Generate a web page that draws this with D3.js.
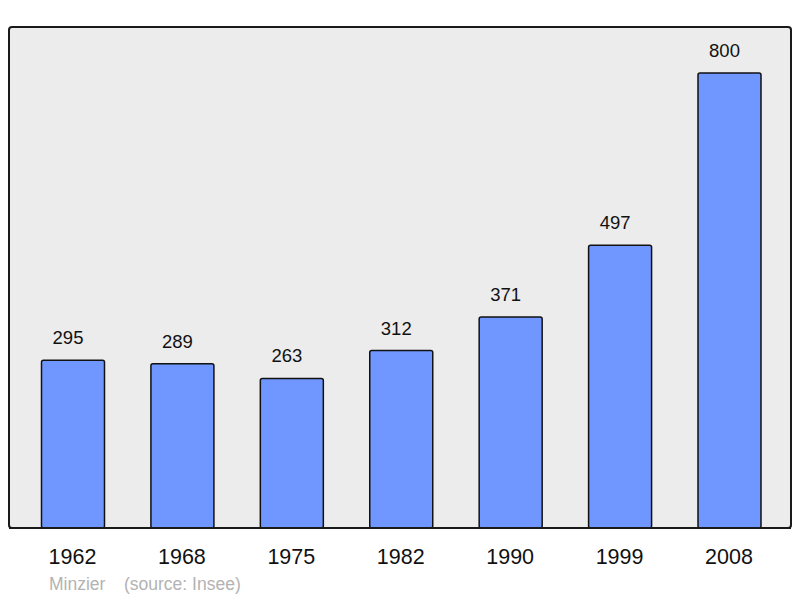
<!DOCTYPE html>
<html><head><meta charset="utf-8">
<script src="https://d3js.org/d3.v7.min.js"></script>
<style>body{margin:0;background:#fff}svg{display:block}</style>
</head><body>
<script>
const years = ["1962","1968","1975","1982","1990","1999","2008"];
const population = [295,289,263,312,371,497,800];
const footer = ["Minzier", "(source: Insee)"];

const W = 800, H = 598;
const svg = d3.select("body").append("svg").attr("width", W).attr("height", H);
const panel = {x0: 9, y0: 27, x1: 791, y1: 528};

svg.append("rect").attr("x", panel.x0).attr("y", panel.y0)
  .attr("width", panel.x1 - panel.x0).attr("height", panel.y1 - panel.y0)
  .attr("rx", 3).attr("fill", "#ececec").attr("stroke", "#1a1a1a").attr("stroke-width", 2);

const xc = d3.scalePoint().domain(years).range([73, 729.5]);
const bw = 63;
const y = d3.scaleLinear().domain([0, 800]).range([panel.y1, 73]);

svg.selectAll("rect.bar").data(years).enter().append("rect")
  .attr("class", "bar")
  .attr("x", d => xc(d) - bw / 2)
  .attr("y", (d, i) => y(population[i]))
  .attr("width", bw)
  .attr("height", (d, i) => y(0) - y(population[i]))
  .attr("rx", 2)
  .attr("fill", "#7096ff").attr("stroke", "#111").attr("stroke-width", 1.5);

svg.selectAll("text.val").data(years).enter().append("text")
  .attr("x", d => xc(d) - 5)
  .attr("y", (d, i) => y(population[i]) - 16)
  .attr("text-anchor", "middle")
  .attr("font-family", "Liberation Sans, Arial, sans-serif")
  .attr("font-size", 18.5).attr("fill", "#111")
  .text((d, i) => population[i]);

svg.append("line").attr("x1", panel.x0).attr("x2", panel.x1)
  .attr("y1", panel.y1).attr("y2", panel.y1).attr("stroke", "#1a1a1a").attr("stroke-width", 2);

const axis = d3.axisBottom(xc).tickSize(0).tickPadding(0);
const g = svg.append("g").attr("transform", `translate(0,${panel.y1})`).call(axis);
g.select(".domain").remove();
g.selectAll("text").attr("y", 36).attr("dy", 0).attr("dx", -1)
  .attr("font-family", "Liberation Sans, Arial, sans-serif")
  .attr("font-size", 21.5).attr("fill", "#111");

svg.append("text").attr("x", 49).attr("y", 590)
  .attr("font-family", "Liberation Sans, Arial, sans-serif")
  .attr("font-size", 17.5).attr("fill", "#b3b3b3").text(footer[0]);
svg.append("text").attr("x", 124).attr("y", 590)
  .attr("font-family", "Liberation Sans, Arial, sans-serif")
  .attr("font-size", 17.5).attr("fill", "#b3b3b3").text(footer[1]);
</script>
</body></html>
